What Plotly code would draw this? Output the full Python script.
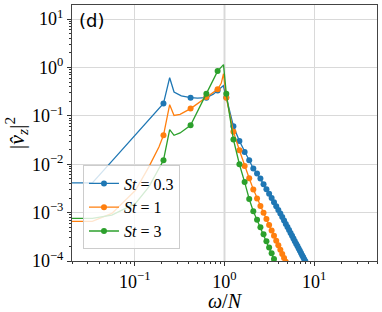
import plotly.graph_objects as go

# ---- marker frequencies (omega/N) ----
omega_markers = [0.209, 0.419, 0.628, 0.838, 1.047, 1.257, 1.466, 1.676, 1.885, 2.094,
                 2.304, 2.513, 2.723, 2.932, 3.142, 3.351, 3.560, 3.770, 3.979, 4.189,
                 4.398, 4.608, 4.817, 5.027, 5.236, 5.445, 5.655, 5.864, 6.074, 6.283,
                 6.493, 6.702, 6.912, 7.121, 7.330, 7.540, 7.749, 7.959, 8.168, 8.378]

# ---- marker values ----
st03_markers = [0.18, 0.237, 0.237, 0.335, 0.24, 0.0608, 0.0302, 0.01795, 0.01208, 0.00815,
                0.00643, 0.00507, 0.00387, 0.00303, 0.00245, 0.00200, 0.00163, 0.001355, 0.001138, 0.000959,
                0.000807, 0.000684, 0.000583, 0.000502, 0.000435, 0.000378, 0.000331, 0.000291, 0.000256, 0.000228,
                0.000203, 0.000181, 0.000162, 0.000146, 0.000132, 0.000119, 0.000108, 0.0000984, 0.0000891, 0.0000813]
st1_markers = [0.0396, 0.141, 0.244, 0.352, 0.237, 0.0468, 0.0195, 0.00923, 0.00513, 0.00302,
               0.00196, 0.001377, 0.00099, 0.000734, 0.000553, 0.000426, 0.000332, 0.000263, 0.000211, 0.000171,
               0.000140, 0.000116, 0.0000966, 0.0000813]
st3_markers = [0.0121, 0.0637, 0.287, 0.84, 0.287, 0.0324, 0.0100, 0.00427, 0.00191, 0.00107,
               0.000708, 0.000501, 0.000355, 0.000257, 0.000191, 0.000145, 0.000110, 0.0000851, 0.0000661]

# ---- low-frequency parts of the continuous curves ----
st03_line_x = [0.015, 0.0337, 0.06, 0.1, 0.15, 0.209, 0.245, 0.274, 0.33, 0.419, 0.5, 0.628, 0.75, 0.838, 0.97, 1.047]
st03_line_y = [0.0041, 0.0041, 0.0135, 0.039, 0.092, 0.18, 0.613, 0.31, 0.258, 0.237, 0.232, 0.237, 0.28, 0.335, 0.42, 0.24]
st1_line_x = [0.015, 0.0337, 0.0556, 0.102, 0.1436, 0.186, 0.209, 0.245, 0.274, 0.32, 0.419, 0.628, 0.838, 0.92, 0.975, 1.047]
st1_line_y = [0.00066, 0.00066, 0.00096, 0.0029, 0.0088, 0.0227, 0.0396, 0.170, 0.102, 0.107, 0.141, 0.244, 0.352, 0.47, 0.74, 0.237]
st3_line_x = [0.015, 0.0337, 0.0556, 0.102, 0.1436, 0.178, 0.209, 0.245, 0.274, 0.32, 0.419, 0.628, 0.838, 0.975, 1.047]
st3_line_y = [0.00076, 0.00076, 0.00089, 0.00155, 0.0034, 0.0069, 0.0121, 0.052, 0.0396, 0.0442, 0.0637, 0.287, 0.84, 1.14, 0.287]

labels = ["<i>St</i> = 0.3", "<i>St</i> = 1", "<i>St</i> = 3"]
colors = ["#1f77b4", "#ff7f0e", "#2ca02c"]

x_tickvals = [0.1, 1, 10]
x_ticktext = ["10<sup>−1</sup>", "10<sup>0</sup>", "10<sup>1</sup>"]
y_tickvals = [1e-4, 1e-3, 1e-2, 1e-1, 1, 10]
y_ticktext = ["10<sup>−4</sup>", "10<sup>−3</sup>", "10<sup>−2</sup>", "10<sup>−1</sup>", "10<sup>0</sup>", "10<sup>1</sup>"]

series = [
    (st03_line_x, st03_line_y, st03_markers),
    (st1_line_x, st1_line_y, st1_markers),
    (st3_line_x, st3_line_y, st3_markers),
]

fig = go.Figure()
for (lx, ly, my), lab, col in zip(series, labels, colors):
    n = len(my)
    mx = omega_markers[:n]
    full_x = lx + mx[5:]
    full_y = ly + my[5:]
    fig.add_trace(go.Scatter(x=full_x, y=full_y, mode="lines",
                             line=dict(color=col, width=1.3), showlegend=False, hoverinfo="skip"))
    fig.add_trace(go.Scatter(x=mx, y=my, mode="markers",
                             marker=dict(color=col, size=6), showlegend=False))
    fig.add_trace(go.Scatter(x=[None], y=[None], mode="lines+markers", name=lab,
                             line=dict(color=col, width=1.3), marker=dict(color=col, size=6)))

# minor tick positions
minor_x = [m * 10 ** e for e in range(-2, 2) for m in range(2, 10)]
minor_y = [m * 10 ** e for e in range(-4, 2) for m in range(2, 10)]

fig.add_shape(type="line", x0=1, x1=1, y0=0, y1=1, xref="x", yref="paper",
              line=dict(color="rgba(215,215,215,0.9)", width=2), layer="below")

fig.update_layout(
    width=382, height=312,
    margin=dict(l=72, r=5, t=5, b=51),
    plot_bgcolor="white", paper_bgcolor="white",
    font=dict(family="Liberation Serif", size=18, color="black"),
    legend=dict(x=0.036, y=0.045, xanchor="left", yanchor="bottom",
                bgcolor="rgba(255,255,255,0.8)", bordercolor="#cccccc", borderwidth=1,
                font=dict(family="Liberation Serif", size=16), tracegroupgap=0,
                itemwidth=30),
    annotations=[dict(text="(d)", x=0.015, y=0.99, xref="paper", yref="paper",
                      xanchor="left", yanchor="top", showarrow=False,
                      font=dict(family="DejaVu Sans", size=18, color="black"))],
)
fig.update_xaxes(type="log", range=[-1.699, 1.699], automargin=False,
                 tickmode="array", tickvals=x_tickvals, ticktext=x_ticktext,
                 ticks="outside", ticklen=4, tickcolor="#333",
                 showgrid=True, gridcolor="#d9d9d9", gridwidth=1,
                 showline=True, linecolor="#444", linewidth=1, mirror=True,
                 zeroline=False,
                 minor=dict(tickmode="array", tickvals=minor_x, ticks="outside", ticklen=2,
                            tickcolor="#333", showgrid=False),
                 title=dict(text="<i>ω</i>/<i>N</i>", font=dict(size=20), standoff=1),
                 tickfont=dict(size=18))
fig.update_yaxes(type="log", range=[-4, 1.29], automargin=False,
                 tickmode="array", tickvals=y_tickvals, ticktext=y_ticktext,
                 ticks="outside", ticklen=4, tickcolor="#333",
                 showgrid=True, gridcolor="#d9d9d9", gridwidth=1,
                 showline=True, linecolor="#444", linewidth=1, mirror=True,
                 zeroline=False,
                 minor=dict(tickmode="array", tickvals=minor_y, ticks="outside", ticklen=2,
                            tickcolor="#333", showgrid=False),
                 title=dict(text="|<i>v̂</i><sub><i>z</i></sub>|<sup>2</sup>", font=dict(size=22), standoff=1),
                 tickfont=dict(size=18))

fig.write_html("out.html", config={"displayModeBar": False},
               post_script="document.body.style.margin='0';")
